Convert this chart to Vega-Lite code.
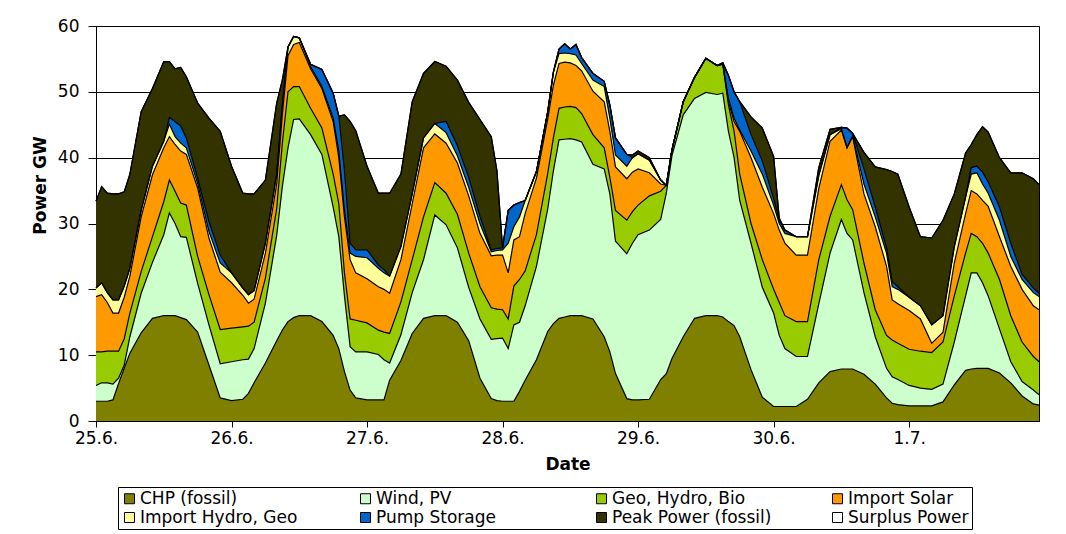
{
  "$schema": "https://vega.github.io/schema/vega-lite/v6.json",
  "width": 943,
  "height": 395,
  "autosize": {"type": "none"},
  "padding": {"left": 96, "top": 26, "right": 27, "bottom": 113},
  "background": "white",
  "config": {
    "view": {"stroke": "black", "strokeWidth": 1},
    "font": "DejaVu Sans"
  },
  "datasets": {
    "series": [
      {"key": "chp", "label": "CHP (fossil)", "o": 1},
      {"key": "wind", "label": "Wind, PV", "o": 2},
      {"key": "geo", "label": "Geo, Hydro, Bio", "o": 3},
      {"key": "solar", "label": "Import Solar", "o": 4},
      {"key": "hydro", "label": "Import Hydro, Geo", "o": 5},
      {"key": "pump", "label": "Pump Storage", "o": 6},
      {"key": "peak", "label": "Peak Power (fossil)", "o": 7},
      {"key": "surplus", "label": "Surplus Power", "o": 8}
    ],
    "power": [
      {"t": "2007-06-25T00:00", "chp": 3.0, "wind": 2.4, "geo": 5.1, "solar": 8.4, "hydro": 1.3, "pump": 0, "peak": 13.2, "surplus": 0},
      {"t": "2007-06-25T01:00", "chp": 3.0, "wind": 2.8, "geo": 4.7, "solar": 8.7, "hydro": 1.8, "pump": 0, "peak": 14.6, "surplus": 0},
      {"t": "2007-06-25T02:00", "chp": 3.0, "wind": 2.8, "geo": 4.8, "solar": 7.4, "hydro": 1.5, "pump": 0, "peak": 15.1, "surplus": 0},
      {"t": "2007-06-25T03:00", "chp": 3.2, "wind": 2.4, "geo": 5.0, "solar": 5.8, "hydro": 2.0, "pump": 0, "peak": 16.1, "surplus": 0},
      {"t": "2007-06-25T04:00", "chp": 5.7, "wind": 0.8, "geo": 4.1, "solar": 5.8, "hydro": 2.0, "pump": 0, "peak": 16.1, "surplus": 0},
      {"t": "2007-06-25T05:00", "chp": 8.0, "wind": 0.5, "geo": 4.0, "solar": 6.3, "hydro": 1.7, "pump": 0, "peak": 14.3, "surplus": 0},
      {"t": "2007-06-25T06:00", "chp": 10.3, "wind": 2.5, "geo": 3.6, "solar": 5.6, "hydro": 1.2, "pump": 0, "peak": 14.3, "surplus": 0},
      {"t": "2007-06-25T08:00", "chp": 13.4, "wind": 6.0, "geo": 3.3, "solar": 8.3, "hydro": 1.0, "pump": 0, "peak": 15.0, "surplus": 0},
      {"t": "2007-06-25T10:00", "chp": 15.6, "wind": 8.5, "geo": 3.9, "solar": 9.4, "hydro": 1.3, "pump": 0, "peak": 11.8, "surplus": 0},
      {"t": "2007-06-25T12:00", "chp": 16.0, "wind": 12.3, "geo": 5.0, "solar": 8.2, "hydro": 1.0, "pump": 0, "peak": 12.1, "surplus": 0},
      {"t": "2007-06-25T13:00", "chp": 16.0, "wind": 15.6, "geo": 5.0, "solar": 6.6, "hydro": 1.9, "pump": 1.0, "peak": 8.5, "surplus": 0},
      {"t": "2007-06-25T14:00", "chp": 16.0, "wind": 14.0, "geo": 4.9, "solar": 7.1, "hydro": 1.2, "pump": 2.3, "peak": 8.0, "surplus": 0},
      {"t": "2007-06-25T15:00", "chp": 15.7, "wind": 12.3, "geo": 5.1, "solar": 7.9, "hydro": 1.2, "pump": 2.6, "peak": 8.9, "surplus": 0},
      {"t": "2007-06-25T16:00", "chp": 15.4, "wind": 12.5, "geo": 4.9, "solar": 7.7, "hydro": 1.0, "pump": 1.5, "peak": 9.3, "surplus": 0},
      {"t": "2007-06-25T18:00", "chp": 13.5, "wind": 7.4, "geo": 4.1, "solar": 10.4, "hydro": 0.7, "pump": 0.8, "peak": 11.4, "surplus": 0},
      {"t": "2007-06-25T20:00", "chp": 8.5, "wind": 6.1, "geo": 4.6, "solar": 8.6, "hydro": 1.0, "pump": 1.5, "peak": 15.7, "surplus": 0},
      {"t": "2007-06-25T22:00", "chp": 3.5, "wind": 5.2, "geo": 5.2, "solar": 8.7, "hydro": 1.4, "pump": 1.2, "peak": 18.8, "surplus": 0},
      {"t": "2007-06-26T00:00", "chp": 3.1, "wind": 5.9, "geo": 5.1, "solar": 6.9, "hydro": 1.5, "pump": 0, "peak": 16.2, "surplus": 0},
      {"t": "2007-06-26T02:00", "chp": 3.3, "wind": 6.0, "geo": 5.0, "solar": 4.8, "hydro": 1.1, "pump": 0, "peak": 14.4, "surplus": 0},
      {"t": "2007-06-26T03:00", "chp": 4.2, "wind": 5.2, "geo": 5.0, "solar": 3.5, "hydro": 1.3, "pump": 0, "peak": 15.3, "surplus": 0},
      {"t": "2007-06-26T04:00", "chp": 5.8, "wind": 5.2, "geo": 4.0, "solar": 3.5, "hydro": 1.3, "pump": 0, "peak": 14.7, "surplus": 0},
      {"t": "2007-06-26T06:00", "chp": 8.8, "wind": 9.1, "geo": 3.8, "solar": 3.8, "hydro": 1.5, "pump": 0, "peak": 9.6, "surplus": 0},
      {"t": "2007-06-26T08:00", "chp": 12.2, "wind": 16.0, "geo": 4.1, "solar": 3.7, "hydro": 1.5, "pump": 0, "peak": 10.8, "surplus": 0},
      {"t": "2007-06-26T09:00", "chp": 13.8, "wind": 21.8, "geo": 6.6, "solar": 4.3, "hydro": 1.5, "pump": 0, "peak": 3.8, "surplus": 0},
      {"t": "2007-06-26T10:00", "chp": 15.1, "wind": 26.4, "geo": 8.5, "solar": 5.5, "hydro": 1.3, "pump": 0, "peak": 0, "surplus": 0},
      {"t": "2007-06-26T11:00", "chp": 15.7, "wind": 30.1, "geo": 5.0, "solar": 6.4, "hydro": 1.2, "pump": 0, "peak": 0, "surplus": 0},
      {"t": "2007-06-26T12:00", "chp": 16.0, "wind": 29.9, "geo": 4.9, "solar": 6.7, "hydro": 0.7, "pump": 0, "peak": 0, "surplus": 0},
      {"t": "2007-06-26T14:00", "chp": 16.0, "wind": 27.5, "geo": 4.0, "solar": 6.0, "hydro": 0.3, "pump": 0.4, "peak": 0, "surplus": 0},
      {"t": "2007-06-26T16:00", "chp": 15.1, "wind": 25.4, "geo": 4.0, "solar": 6.0, "hydro": 0.3, "pump": 2.6, "peak": 0, "surplus": 0},
      {"t": "2007-06-26T18:00", "chp": 13.0, "wind": 19.5, "geo": 5.0, "solar": 8.0, "hydro": 0.5, "pump": 3.8, "peak": 0, "surplus": 0},
      {"t": "2007-06-26T19:00", "chp": 11.0, "wind": 17.0, "geo": 5.0, "solar": 7.0, "hydro": 1.0, "pump": 5.3, "peak": 0, "surplus": 0},
      {"t": "2007-06-26T20:00", "chp": 7.5, "wind": 11.5, "geo": 3.5, "solar": 8.5, "hydro": 1.0, "pump": 6.0, "peak": 8.5, "surplus": 0},
      {"t": "2007-06-26T21:00", "chp": 4.7, "wind": 6.6, "geo": 4.2, "solar": 9.0, "hydro": 1.0, "pump": 1.5, "peak": 18.5, "surplus": 0},
      {"t": "2007-06-26T22:00", "chp": 3.5, "wind": 7.0, "geo": 4.8, "solar": 7.2, "hydro": 2.5, "pump": 1.0, "peak": 18.1, "surplus": 0},
      {"t": "2007-06-27T00:00", "chp": 3.2, "wind": 7.3, "geo": 4.4, "solar": 6.7, "hydro": 3.2, "pump": 1.2, "peak": 12.7, "surplus": 0},
      {"t": "2007-06-27T02:00", "chp": 3.2, "wind": 6.9, "geo": 3.7, "solar": 6.6, "hydro": 2.8, "pump": 0.5, "peak": 10.9, "surplus": 0},
      {"t": "2007-06-27T03:00", "chp": 3.2, "wind": 6.1, "geo": 4.2, "solar": 6.5, "hydro": 2.5, "pump": 0.5, "peak": 11.6, "surplus": 0},
      {"t": "2007-06-27T04:00", "chp": 6.2, "wind": 2.6, "geo": 4.5, "solar": 6.1, "hydro": 2.6, "pump": 0, "peak": 12.6, "surplus": 0},
      {"t": "2007-06-27T06:00", "chp": 9.2, "wind": 3.9, "geo": 5.0, "solar": 6.4, "hydro": 2.0, "pump": 0, "peak": 11.0, "surplus": 0},
      {"t": "2007-06-27T08:00", "chp": 13.3, "wind": 6.2, "geo": 5.0, "solar": 8.5, "hydro": 1.5, "pump": 0, "peak": 14.0, "surplus": 0},
      {"t": "2007-06-27T10:00", "chp": 15.6, "wind": 8.9, "geo": 6.5, "solar": 10.5, "hydro": 1.5, "pump": 0, "peak": 9.8, "surplus": 0},
      {"t": "2007-06-27T12:00", "chp": 16.0, "wind": 15.3, "geo": 4.9, "solar": 7.4, "hydro": 1.6, "pump": 0, "peak": 9.4, "surplus": 0},
      {"t": "2007-06-27T14:00", "chp": 16.0, "wind": 13.8, "geo": 4.8, "solar": 7.6, "hydro": 1.6, "pump": 1.7, "peak": 8.4, "surplus": 0},
      {"t": "2007-06-27T16:00", "chp": 15.0, "wind": 11.3, "geo": 5.1, "solar": 7.8, "hydro": 1.1, "pump": 1.5, "peak": 10.0, "surplus": 0},
      {"t": "2007-06-27T18:00", "chp": 12.2, "wind": 8.1, "geo": 5.2, "solar": 8.7, "hydro": 1.3, "pump": 1.5, "peak": 11.4, "surplus": 0},
      {"t": "2007-06-27T20:00", "chp": 6.5, "wind": 9.0, "geo": 4.9, "solar": 8.1, "hydro": 1.5, "pump": 1.1, "peak": 14.7, "surplus": 0},
      {"t": "2007-06-27T22:00", "chp": 3.4, "wind": 9.0, "geo": 4.8, "solar": 7.9, "hydro": 0.6, "pump": 0.3, "peak": 17.2, "surplus": 0},
      {"t": "2007-06-27T23:00", "chp": 3.1, "wind": 9.4, "geo": 4.5, "solar": 8.2, "hydro": 0.7, "pump": 0.3, "peak": 11.8, "surplus": 0},
      {"t": "2007-06-28T00:00", "chp": 3.0, "wind": 9.6, "geo": 4.3, "solar": 8.3, "hydro": 0.8, "pump": 0.3, "peak": 0, "surplus": 0},
      {"t": "2007-06-28T01:00", "chp": 3.0, "wind": 8.0, "geo": 4.5, "solar": 7.0, "hydro": 4.5, "pump": 5.0, "peak": 0, "surplus": 0},
      {"t": "2007-06-28T02:00", "chp": 3.0, "wind": 11.6, "geo": 5.9, "solar": 7.0, "hydro": 2.0, "pump": 3.3, "peak": 0, "surplus": 0},
      {"t": "2007-06-28T03:00", "chp": 4.5, "wind": 10.5, "geo": 6.5, "solar": 6.5, "hydro": 3.0, "pump": 2.2, "peak": 0, "surplus": 0},
      {"t": "2007-06-28T04:00", "chp": 6.2, "wind": 11.3, "geo": 5.3, "solar": 8.7, "hydro": 2.0, "pump": 0, "peak": 0, "surplus": 0},
      {"t": "2007-06-28T06:00", "chp": 9.3, "wind": 14.2, "geo": 4.8, "solar": 8.6, "hydro": 1.0, "pump": 0, "peak": 0, "surplus": 0},
      {"t": "2007-06-28T08:00", "chp": 13.6, "wind": 18.6, "geo": 5.4, "solar": 8.3, "hydro": 1.1, "pump": 0, "peak": 0, "surplus": 0},
      {"t": "2007-06-28T09:00", "chp": 14.8, "wind": 23.2, "geo": 5.0, "solar": 8.0, "hydro": 2.0, "pump": 0, "peak": 0, "surplus": 0},
      {"t": "2007-06-28T10:00", "chp": 15.6, "wind": 27.1, "geo": 4.8, "solar": 6.8, "hydro": 1.5, "pump": 0.7, "peak": 0, "surplus": 0},
      {"t": "2007-06-28T11:00", "chp": 15.8, "wind": 27.0, "geo": 4.9, "solar": 6.8, "hydro": 1.4, "pump": 1.4, "peak": 0, "surplus": 0},
      {"t": "2007-06-28T12:00", "chp": 16.0, "wind": 26.9, "geo": 4.9, "solar": 6.6, "hydro": 1.4, "pump": 0.7, "peak": 0, "surplus": 0},
      {"t": "2007-06-28T13:00", "chp": 16.0, "wind": 26.7, "geo": 4.9, "solar": 6.4, "hydro": 1.6, "pump": 1.6, "peak": 0, "surplus": 0},
      {"t": "2007-06-28T14:00", "chp": 16.0, "wind": 26.4, "geo": 4.3, "solar": 6.5, "hydro": 1.1, "pump": 0.9, "peak": 0, "surplus": 0},
      {"t": "2007-06-28T16:00", "chp": 15.5, "wind": 23.5, "geo": 4.5, "solar": 6.6, "hydro": 1.7, "pump": 1.0, "peak": 0, "surplus": 0},
      {"t": "2007-06-28T18:00", "chp": 12.8, "wind": 25.5, "geo": 3.2, "solar": 7.0, "hydro": 2.3, "pump": 0.8, "peak": 0, "surplus": 0},
      {"t": "2007-06-28T19:00", "chp": 10.5, "wind": 24.0, "geo": 2.5, "solar": 7.0, "hydro": 2.0, "pump": 2.0, "peak": 0, "surplus": 0},
      {"t": "2007-06-28T20:00", "chp": 7.2, "wind": 20.1, "geo": 4.7, "solar": 6.6, "hydro": 1.8, "pump": 2.6, "peak": 0, "surplus": 0},
      {"t": "2007-06-28T22:00", "chp": 3.4, "wind": 22.0, "geo": 5.1, "solar": 6.3, "hydro": 1.9, "pump": 1.8, "peak": 0, "surplus": 0},
      {"t": "2007-06-28T23:00", "chp": 3.2, "wind": 23.8, "geo": 4.8, "solar": 6.0, "hydro": 2.2, "pump": 0, "peak": 0.4, "surplus": 0},
      {"t": "2007-06-29T00:00", "chp": 3.2, "wind": 25.1, "geo": 4.5, "solar": 5.5, "hydro": 2.3, "pump": 0, "peak": 0.4, "surplus": 0},
      {"t": "2007-06-29T02:00", "chp": 3.3, "wind": 25.7, "geo": 5.2, "solar": 3.5, "hydro": 1.9, "pump": 0, "peak": 0.4, "surplus": 0},
      {"t": "2007-06-29T04:00", "chp": 6.3, "wind": 24.3, "geo": 4.3, "solar": 1.1, "hydro": 0.6, "pump": 0, "peak": 0, "surplus": 0},
      {"t": "2007-06-29T05:00", "chp": 7.2, "wind": 27.4, "geo": 1.2, "solar": 0, "hydro": 0, "pump": 0, "peak": 0, "surplus": 0},
      {"t": "2007-06-29T06:00", "chp": 9.5, "wind": 30.8, "geo": 0.9, "solar": 0, "hydro": 0, "pump": 0, "peak": 0, "surplus": 0},
      {"t": "2007-06-29T08:00", "chp": 12.8, "wind": 33.7, "geo": 2.0, "solar": 0, "hydro": 0, "pump": 0, "peak": 0, "surplus": 0},
      {"t": "2007-06-29T10:00", "chp": 15.6, "wind": 33.4, "geo": 3.2, "solar": 0, "hydro": 0, "pump": 0, "peak": 0, "surplus": 0},
      {"t": "2007-06-29T12:00", "chp": 16.0, "wind": 33.9, "geo": 5.2, "solar": 0, "hydro": 0, "pump": 0, "peak": 0, "surplus": 0},
      {"t": "2007-06-29T14:00", "chp": 16.0, "wind": 33.6, "geo": 4.4, "solar": 0, "hydro": 0, "pump": 0, "peak": 0, "surplus": 0},
      {"t": "2007-06-29T15:00", "chp": 15.8, "wind": 34.0, "geo": 4.4, "solar": 0, "hydro": 0, "pump": 0.2, "peak": 0, "surplus": 0},
      {"t": "2007-06-29T16:00", "chp": 15.1, "wind": 28.9, "geo": 4.0, "solar": 0.5, "hydro": 0.5, "pump": 3.5, "peak": 0, "surplus": 0},
      {"t": "2007-06-29T17:00", "chp": 14.5, "wind": 25.5, "geo": 4.0, "solar": 1.5, "hydro": 0.5, "pump": 4.0, "peak": 0, "surplus": 0},
      {"t": "2007-06-29T18:00", "chp": 12.8, "wind": 20.7, "geo": 4.0, "solar": 6.5, "hydro": 0.2, "pump": 4.3, "peak": 0, "surplus": 0},
      {"t": "2007-06-29T20:00", "chp": 7.8, "wind": 19.2, "geo": 3.0, "solar": 10.0, "hydro": 1.0, "pump": 2.5, "peak": 2.7, "surplus": 0},
      {"t": "2007-06-29T22:00", "chp": 3.6, "wind": 16.7, "geo": 4.2, "solar": 11.0, "hydro": 2.0, "pump": 2.0, "peak": 5.0, "surplus": 0},
      {"t": "2007-06-30T00:00", "chp": 2.2, "wind": 14.2, "geo": 3.6, "solar": 11.5, "hydro": 1.3, "pump": 1.0, "peak": 6.4, "surplus": 0},
      {"t": "2007-06-30T01:00", "chp": 2.2, "wind": 10.8, "geo": 5.0, "solar": 11.0, "hydro": 1.0, "pump": 0.5, "peak": 0.3, "surplus": 0},
      {"t": "2007-06-30T02:00", "chp": 2.2, "wind": 8.8, "geo": 5.0, "solar": 11.0, "hydro": 1.5, "pump": 0.5, "peak": 0, "surplus": 0},
      {"t": "2007-06-30T04:00", "chp": 2.2, "wind": 7.6, "geo": 5.3, "solar": 10.1, "hydro": 2.8, "pump": 0, "peak": 0, "surplus": 0},
      {"t": "2007-06-30T06:00", "chp": 3.3, "wind": 6.5, "geo": 5.3, "solar": 10.1, "hydro": 2.8, "pump": 0, "peak": 0, "surplus": 0},
      {"t": "2007-06-30T08:00", "chp": 5.8, "wind": 12.0, "geo": 6.7, "solar": 10.8, "hydro": 2.0, "pump": 0, "peak": 1.2, "surplus": 0},
      {"t": "2007-06-30T10:00", "chp": 7.5, "wind": 18.0, "geo": 5.6, "solar": 11.4, "hydro": 1.0, "pump": 0, "peak": 0.8, "surplus": 0},
      {"t": "2007-06-30T12:00", "chp": 7.9, "wind": 22.7, "geo": 5.3, "solar": 8.3, "hydro": 0.2, "pump": 0.2, "peak": 0, "surplus": 0},
      {"t": "2007-06-30T13:00", "chp": 7.9, "wind": 20.6, "geo": 5.1, "solar": 7.9, "hydro": 0, "pump": 3.0, "peak": 0, "surplus": 0},
      {"t": "2007-06-30T14:00", "chp": 7.9, "wind": 19.6, "geo": 4.6, "solar": 11.1, "hydro": 0.1, "pump": 0.4, "peak": 0, "surplus": 0},
      {"t": "2007-06-30T16:00", "chp": 7.1, "wind": 12.4, "geo": 4.5, "solar": 10.5, "hydro": 1.5, "pump": 2.3, "peak": 2.5, "surplus": 0},
      {"t": "2007-06-30T18:00", "chp": 5.6, "wind": 7.2, "geo": 4.1, "solar": 12.6, "hydro": 1.5, "pump": 1.5, "peak": 6.1, "surplus": 0},
      {"t": "2007-06-30T20:00", "chp": 3.5, "wind": 4.5, "geo": 5.0, "solar": 10.5, "hydro": 2.0, "pump": 0.8, "peak": 11.9, "surplus": 0},
      {"t": "2007-06-30T21:00", "chp": 2.7, "wind": 4.0, "geo": 5.6, "solar": 6.1, "hydro": 2.0, "pump": 0.8, "peak": 16.7, "surplus": 0},
      {"t": "2007-06-30T22:00", "chp": 2.5, "wind": 3.8, "geo": 5.5, "solar": 6.0, "hydro": 2.2, "pump": 0.4, "peak": 17.1, "surplus": 0},
      {"t": "2007-07-01T00:00", "chp": 2.3, "wind": 3.1, "geo": 5.5, "solar": 5.9, "hydro": 2.0, "pump": 0, "peak": 13.7, "surplus": 0},
      {"t": "2007-07-01T02:00", "chp": 2.3, "wind": 2.7, "geo": 5.6, "solar": 4.9, "hydro": 2.0, "pump": 0, "peak": 10.5, "surplus": 0},
      {"t": "2007-07-01T04:00", "chp": 2.3, "wind": 2.5, "geo": 5.6, "solar": 1.4, "hydro": 2.8, "pump": 0, "peak": 13.2, "surplus": 0},
      {"t": "2007-07-01T06:00", "chp": 2.9, "wind": 2.7, "geo": 6.4, "solar": 1.5, "hydro": 2.5, "pump": 0, "peak": 14.5, "surplus": 0},
      {"t": "2007-07-01T08:00", "chp": 5.5, "wind": 6.5, "geo": 7.0, "solar": 5.0, "hydro": 2.5, "pump": 0, "peak": 8.0, "surplus": 0},
      {"t": "2007-07-01T10:00", "chp": 7.7, "wind": 11.3, "geo": 6.5, "solar": 6.0, "hydro": 2.5, "pump": 0, "peak": 6.7, "surplus": 0},
      {"t": "2007-07-01T11:00", "chp": 7.9, "wind": 14.6, "geo": 6.0, "solar": 6.5, "hydro": 2.5, "pump": 1.0, "peak": 3.5, "surplus": 0},
      {"t": "2007-07-01T12:00", "chp": 8.0, "wind": 14.5, "geo": 5.5, "solar": 6.5, "hydro": 3.2, "pump": 1.0, "peak": 4.8, "surplus": 0},
      {"t": "2007-07-01T13:00", "chp": 8.0, "wind": 13.0, "geo": 6.0, "solar": 6.5, "hydro": 2.5, "pump": 1.8, "peak": 6.9, "surplus": 0},
      {"t": "2007-07-01T14:00", "chp": 8.0, "wind": 11.0, "geo": 6.5, "solar": 7.1, "hydro": 2.0, "pump": 1.7, "peak": 7.6, "surplus": 0},
      {"t": "2007-07-01T16:00", "chp": 7.3, "wind": 6.7, "geo": 7.5, "solar": 6.5, "hydro": 2.5, "pump": 2.0, "peak": 7.5, "surplus": 0},
      {"t": "2007-07-01T18:00", "chp": 5.8, "wind": 3.2, "geo": 7.0, "solar": 7.5, "hydro": 1.5, "pump": 2.0, "peak": 10.7, "surplus": 0},
      {"t": "2007-07-01T20:00", "chp": 3.8, "wind": 2.2, "geo": 6.0, "solar": 8.0, "hydro": 1.5, "pump": 0.8, "peak": 15.4, "surplus": 0},
      {"t": "2007-07-01T22:00", "chp": 2.6, "wind": 2.1, "geo": 5.1, "solar": 7.7, "hydro": 2.0, "pump": 0.7, "peak": 16.6, "surplus": 0},
      {"t": "2007-07-01T23:00", "chp": 2.4, "wind": 1.6, "geo": 5.0, "solar": 7.9, "hydro": 2.0, "pump": 0.5, "peak": 16.5, "surplus": 0}
    ]
  },
  "data": {"name": "power"},
  "transform": [
    {"fold": ["chp", "wind", "geo", "solar", "hydro", "pump", "peak", "surplus"], "as": ["key", "value"]},
    {"lookup": "key", "from": {"data": {"name": "series"}, "key": "key", "fields": ["label", "o"]}},
    {"stack": "value", "groupby": ["t"], "sort": [{"field": "o", "order": "ascending"}], "offset": "zero", "as": ["v0", "v1"]}
  ],
  "encoding": {
    "x": {
      "field": "t",
      "type": "temporal",
      "title": "Date",
      "scale": {"nice": false},
      "axis": {
        "format": "%-d.%-m.",
        "tickCount": {"interval": "day", "step": 1},
        "grid": false,
        "labelFlush": false,
        "labelOverlap": false,
        "labelFont": "DejaVu Sans",
        "labelFontSize": 17,
        "labelColor": "black",
        "labelPadding": 3,
        "tickColor": "black",
        "tickSize": 6,
        "domainColor": "black",
        "titleFont": "DejaVu Sans",
        "titleFontSize": 17,
        "titleFontWeight": "bold",
        "titleColor": "black",
        "titlePadding": 10
      }
    },
    "y": {
      "field": "v1",
      "type": "quantitative",
      "title": "Power GW",
      "scale": {"domain": [0, 60], "nice": false},
      "axis": {
        "values": [0, 10, 20, 30, 40, 50, 60],
        "grid": true,
        "gridColor": "black",
        "gridOpacity": 1,
        "gridWidth": 1,
        "labelFont": "DejaVu Sans",
        "labelFontSize": 17,
        "labelColor": "black",
        "labelPadding": 9,
        "tickColor": "black",
        "tickSize": 8,
        "domainColor": "black",
        "titleFont": "DejaVu Sans",
        "titleFontSize": 17,
        "titleFontWeight": "bold",
        "titleColor": "black",
        "titleBaseline": "alphabetic",
        "titleX": -51,
        "titleY": 159
      }
    }
  },
  "layer": [
    {
      "mark": {"type": "area", "interpolate": "linear", "opacity": 1, "fillOpacity": 1},
      "encoding": {
        "y2": {"field": "v0"},
        "color": {
          "field": "label",
          "type": "nominal",
          "scale": {
            "domain": ["CHP (fossil)", "Wind, PV", "Geo, Hydro, Bio", "Import Solar", "Import Hydro, Geo", "Pump Storage", "Peak Power (fossil)", "Surplus Power"],
            "range": ["#808000", "#CCFFCC", "#99CC00", "#FF9900", "#FFFF99", "#0066CC", "#333300", "#FFFFFF"]
          },
          "legend": {
            "title": null,
            "orient": "none",
            "legendX": 22,
            "legendY": 461,
            "direction": "horizontal",
            "columns": 4,
            "gridAlign": "all",
            "symbolType": "square",
            "symbolSize": 100,
            "symbolOpacity": 1,
            "symbolStrokeColor": "black",
            "symbolStrokeWidth": 1,
            "labelFont": "DejaVu Sans",
            "labelFontSize": 17,
            "labelColor": "black",
            "labelOffset": 2,
            "columnPadding": 57,
            "rowPadding": 1,
            "padding": 3,
            "strokeColor": "black"
          }
        }
      }
    },
    {
      "mark": {"type": "line", "interpolate": "linear"},
      "encoding": {
        "detail": {"field": "label", "type": "nominal"},
        "stroke": {"value": "black"},
        "strokeWidth": {"value": 1.2},
        "opacity": {"value": 1}
      }
    }
  ]
}
